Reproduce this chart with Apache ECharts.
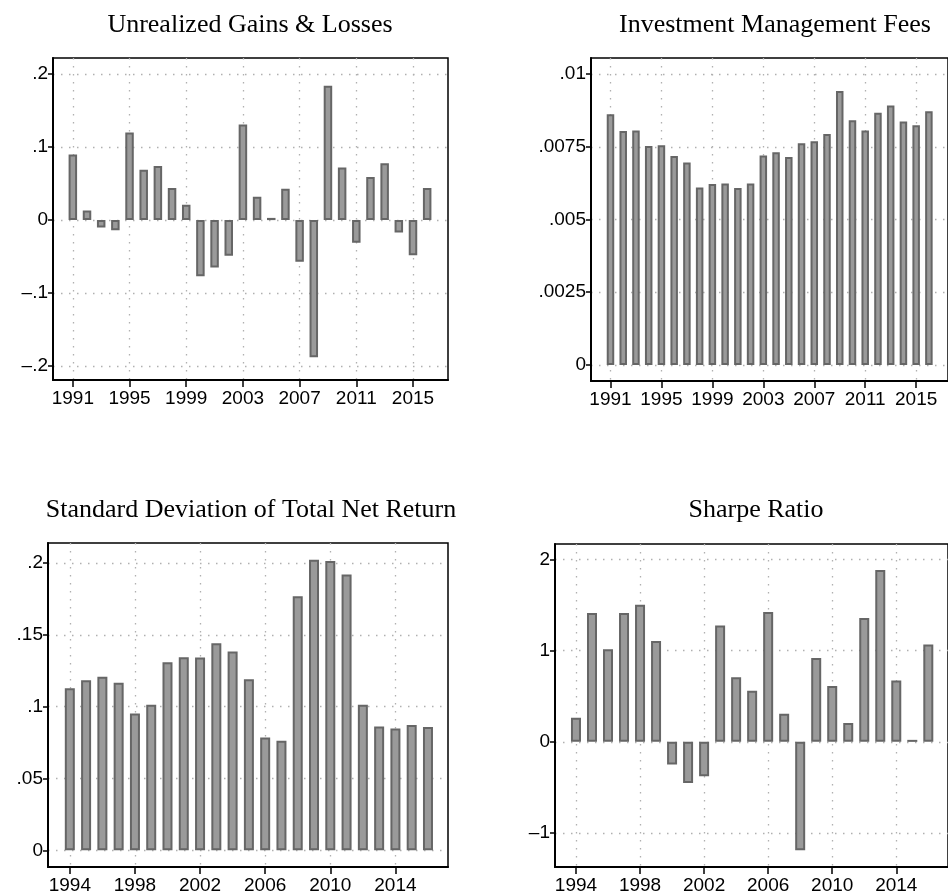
<!DOCTYPE html>
<html>
<head>
<meta charset="utf-8">
<script src="https://cdn.jsdelivr.net/npm/echarts@6/dist/echarts.min.js"></script>
<style>
  html, body { margin: 0; padding: 0; background: #fff; }
  #chart_box { width: 948px; height: 896px; }
</style>
</head>
<body>
<div id="chart_box"></div>
<script>
// data
const yearsA = [1991, 1992, 1993, 1994, 1995, 1996, 1997, 1998, 1999, 2000, 2001, 2002, 2003,
  2004, 2005, 2006, 2007, 2008, 2009, 2010, 2011, 2012, 2013, 2014, 2015, 2016];
const yearsB = [1994, 1995, 1996, 1997, 1998, 1999, 2000, 2001, 2002, 2003, 2004, 2005,
  2006, 2007, 2008, 2009, 2010, 2011, 2012, 2013, 2014, 2015, 2016];

const unrealized = [0.090, 0.013, -0.010, -0.014, 0.120, 0.069, 0.074, 0.044, 0.021, -0.077,
  -0.065, -0.049, 0.131, 0.032, 0.003, 0.043, -0.057, -0.188, 0.184, 0.072, -0.031, 0.059,
  0.078, -0.017, -0.048, 0.044];
const fees = [0.00862, 0.00804, 0.00806, 0.00753, 0.00755, 0.00718, 0.00696, 0.00610, 0.00622,
  0.00624, 0.00608, 0.00624, 0.00720, 0.00731, 0.00715, 0.00762, 0.00769, 0.00794, 0.00942,
  0.00841, 0.00806, 0.00867, 0.00892, 0.00837, 0.00824, 0.00872];
const stdDev = [0.1128, 0.1184, 0.1209, 0.1167, 0.0953, 0.1014, 0.1309, 0.1344, 0.1342, 0.1442,
  0.1384, 0.1191, 0.0786, 0.0763, 0.1770, 0.2023, 0.2014, 0.1921, 0.1014, 0.0863, 0.0849,
  0.0872, 0.0858];
const sharpe = [0.263, 1.411, 1.016, 1.411, 1.503, 1.104, -0.249, -0.450, -0.377, 1.276, 0.709,
  0.559, 1.422, 0.307, -1.188, 0.918, 0.611, 0.208, 1.356, 1.883, 0.673, 0.022, 1.068];

const xTicksA = [1991, 1995, 1999, 2003, 2007, 2011, 2015];
const xTicksB = [1994, 1998, 2002, 2006, 2010, 2014];
const yTicks1 = [-0.2, -0.1, 0, 0.1, 0.2];
const yTicks2 = [0, 0.0025, 0.005, 0.0075, 0.01];
const yTicks3 = [0, 0.05, 0.1, 0.15, 0.2];
const yTicks4 = [-1, 0, 1, 2];

const titles = ["Unrealized Gains & Losses", "Investment Management Fees",
  "Standard Deviation of Total Net Return", "Sharpe Ratio"];

// stata style numbers: no leading zero, en dash for minus
function stataNum(v) {
  let s = String(+v.toFixed(6));
  let neg = s[0] === '-';
  if (neg) s = s.slice(1);
  if (s.indexOf('0.') === 0) s = s.slice(1);
  return (neg ? '\u2013' : '') + s;
}

const dotted = { show: true, lineStyle: { color: '#b0b0b0', width: 1.3, type: [1.5, 6.5] } };

function xAxis(i, min, max, ticks) {
  return {
    type: 'value', gridIndex: i, min: min, max: max,
    axisLine: { show: true, onZero: false, lineStyle: { color: '#000', width: 2 } },
    axisTick: { show: true, length: 7, customValues: ticks, lineStyle: { color: '#000', width: 1.5 } },
    axisLabel: { customValues: ticks, color: '#000', fontSize: 19, fontFamily: 'Liberation Sans', margin: 9,
      formatter: v => String(v) },
    splitLine: dotted
  };
}
function yAxis(i, min, max, ticks) {
  return {
    type: 'value', gridIndex: i, min: min, max: max,
    axisLine: { show: true, onZero: false, lineStyle: { color: '#000', width: 2 } },
    axisTick: { show: true, length: 5, customValues: ticks, lineStyle: { color: '#000', width: 1.5 } },
    axisLabel: { customValues: ticks, color: '#000', fontSize: 19, fontFamily: 'Liberation Sans', margin: 5,
      formatter: stataNum },
    splitLine: dotted
  };
}
function bars(i, years, vals, w) {
  return {
    type: 'bar', xAxisIndex: i, yAxisIndex: i, barWidth: w,
    data: years.map((y, k) => [y, vals[k]]),
    itemStyle: { color: '#9a9a9a', borderColor: '#666666', borderWidth: 2 },
    silent: true
  };
}

const option = {
  animation: false,
  backgroundColor: '#fff',
  title: [
    { text: titles[0], left: 250, top: 12 },
    { text: titles[1], left: 775, top: 12 },
    { text: titles[2], left: 251, top: 497 },
    { text: titles[3], left: 756, top: 497 }
  ].map(t => Object.assign(t, {
    textAlign: 'center', padding: 0,
    textStyle: { fontFamily: 'Liberation Serif', fontSize: 26, fontWeight: 'normal', color: '#000' }
  })),
  grid: [
    { left: 53, top: 58, width: 395, height: 322 },
    { left: 591, top: 58, width: 365, height: 323 },
    { left: 48, top: 543, width: 400, height: 324 },
    { left: 555, top: 544, width: 400, height: 323 }
  ].map(g => Object.assign(g, { show: true, borderColor: '#000', borderWidth: 1.5, backgroundColor: '#fff' })),
  xAxis: [
    xAxis(0, 1989.6, 2017.47, xTicksA),
    xAxis(1, 1989.47, 2017.5, xTicksA),
    xAxis(2, 1992.66, 2017.23, xTicksB),
    xAxis(3, 1992.69, 2017.23, xTicksB)
  ],
  yAxis: [
    yAxis(0, -0.219, 0.222, yTicks1),
    yAxis(1, -0.00055, 0.01055, yTicks2),
    yAxis(2, -0.0116, 0.214, yTicks3),
    yAxis(3, -1.371, 2.168, yTicks4)
  ],
  series: [
    bars(0, yearsA, unrealized, 8.5),
    bars(1, yearsA, fees, 7.5),
    bars(2, yearsB, stdDev, 10),
    bars(3, yearsB, sharpe, 10)
  ]
};

let myChart = echarts.init(document.getElementById('chart_box'));
myChart.setOption(option);
</script>
</body>
</html>
